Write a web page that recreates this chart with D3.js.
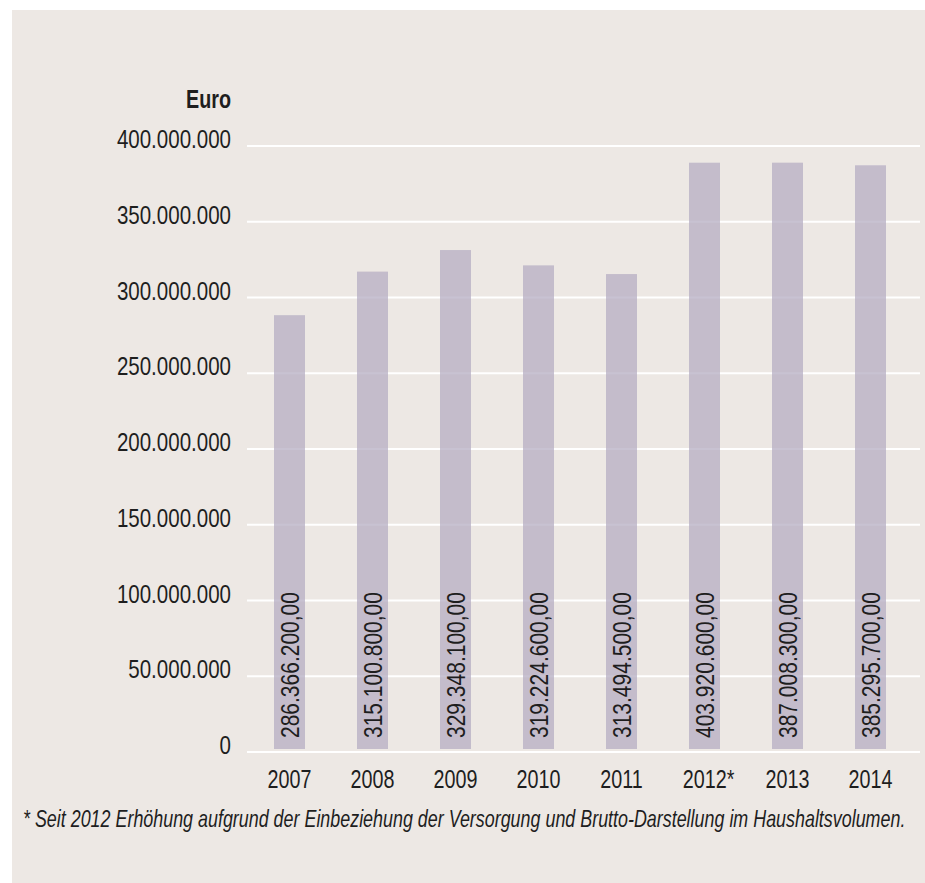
<!DOCTYPE html>
<html>
<head>
<meta charset="utf-8">
<script src="https://cdn.jsdelivr.net/npm/d3@7"></script>
<style>
  body { margin: 0; background: #fff; overflow: hidden; }
  text { font-family: "Liberation Sans", Arial, sans-serif; fill: #1e1e1e; }
</style>
</head>
<body>
<div id="chart"></div>
<script>
// data
const years = ["2007", "2008", "2009", "2010", "2011", "2012*", "2013", "2014"];
const barValues = [286366200, 315100800, 329348100, 319224600, 313494500, 387000000, 387008300, 385295700];
const valueLabels = ["286.366.200,00", "315.100.800,00", "329.348.100,00", "319.224.600,00",
                     "313.494.500,00", "403.920.600,00", "387.008.300,00", "385.295.700,00"];
const yTicks = [0, 50000000, 100000000, 150000000, 200000000, 250000000, 300000000, 350000000, 400000000];
const footnote = "* Seit 2012 Erhöhung aufgrund der Einbeziehung der Versorgung und Brutto-Darstellung im Haushaltsvolumen.";

const W = 925, H = 883;
const narrow = 0.79; // squeeze Liberation Sans into a condensed look

const svg = d3.select("#chart")
  .append("svg")
  .attr("width", W)
  .attr("height", H);

svg.append("rect")
  .attr("x", 12).attr("y", 10)
  .attr("width", W - 12).attr("height", H - 10)
  .attr("fill", "#ede8e4");

const x = d3.scaleBand()
  .domain(years)
  .range([248, 912])
  .paddingInner(0.627)
  .paddingOuter(0.3135);

const y = d3.scaleLinear()
  .domain([0, 400000000])
  .range([752, 146]);

const fmt = d3.formatLocale({ decimal: ",", thousands: ".", grouping: [3], currency: ["", "€"] }).format(",d");

// grid lines
svg.append("g")
  .selectAll("line")
  .data(yTicks)
  .enter().append("line")
  .attr("x1", 247)
  .attr("x2", 920)
  .attr("y1", d => y(d))
  .attr("y2", d => y(d))
  .attr("stroke", "#ffffff")
  .attr("stroke-width", 2);

// y tick labels
svg.append("g")
  .selectAll("text")
  .data(yTicks)
  .enter().append("text")
  .attr("transform", d => `translate(231,${y(d) + 2}) scale(${narrow},1)`)
  .attr("text-anchor", "end")
  .attr("font-size", 26)
  .text(d => fmt(d));

svg.append("text")
  .attr("transform", `translate(231,108) scale(${narrow},1)`)
  .attr("text-anchor", "end")
  .attr("font-size", 25)
  .attr("font-weight", "bold")
  .text("Euro");

// bars (sit slightly above the zero line)
svg.append("g")
  .selectAll("rect")
  .data(years)
  .enter().append("rect")
  .attr("x", d => x(d))
  .attr("y", (d, i) => y(barValues[i]) - 3)
  .attr("width", x.bandwidth())
  .attr("height", (d, i) => y(0) - y(barValues[i]))
  .attr("fill", "#b5adc3")
  .attr("fill-opacity", 0.75);

// value labels inside bars
svg.append("g")
  .selectAll("text")
  .data(years)
  .enter().append("text")
  .attr("transform", d => `translate(${x(d) + x.bandwidth() / 2 + 9},738) rotate(-90) scale(0.84,1)`)
  .attr("font-size", 25)
  .text((d, i) => valueLabels[i]);

// x axis labels
svg.append("g")
  .selectAll("text")
  .data(years)
  .enter().append("text")
  .attr("transform", d => `translate(${x(d) + x.bandwidth() / 2 + (d.endsWith("*") ? 4 : 0)},788) scale(0.76,1)`)
  .attr("text-anchor", "middle")
  .attr("font-size", 26)
  .text(d => d);

// footnote, squeezed to the width it has in the original
const note = svg.append("text")
  .attr("font-size", 23)
  .attr("font-style", "italic")
  .text(footnote);
const noteLen = note.node().getComputedTextLength();
note.attr("transform", `translate(23,827) scale(${883 / noteLen},1)`);
</script>
</body>
</html>
